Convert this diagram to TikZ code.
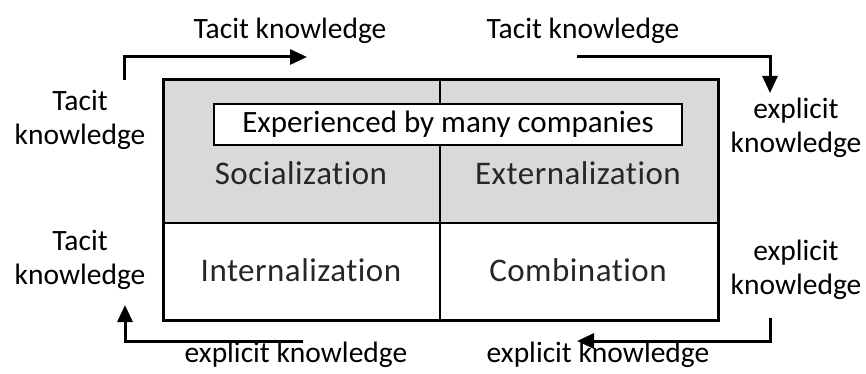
\documentclass[tikz,border=0pt]{standalone}
\usepackage{fontspec}
\setmainfont{Carlito}
\newfontfamily\cellfont[LetterSpace=1.5,Ligatures=NoCommon]{Carlito}
\usetikzlibrary{arrows.meta}

\begin{document}
\begin{tikzpicture}[x=1pt,y=-1pt,
    lbl/.style={font=\fontsize{29.5}{34}\selectfont, align=center, inner sep=0pt},
    cell/.style={font=\cellfont\fontsize{33}{38}\selectfont, text=black!85, inner sep=0pt},
    flow/.style={line width=3pt, -{Triangle[length=17pt,width=15pt]}}]
    \useasboundingbox (0,0) rectangle (866,374);
    % the four modes
    \fill[black!15] (163,80) rectangle (718,223);
    \draw[line width=2.5pt] (440,80) -- (440,320) (163,223) -- (718,223);
    \draw[line width=3pt] (163,80) rectangle (718,320);
    \node[draw, fill=white, line width=1.5pt, minimum width=468pt, minimum height=41pt,
          inner sep=0pt, font=\fontsize{31}{36}\selectfont] (many) at (448,124.5) {Experienced by many companies};
    \node[cell] (soc) at (301,173) {Socialization};
    \node[cell] (ext) at (578,173) {Externalization};
    \node[cell] (int) at (301,270) {Internalization};
    \node[cell] (com) at (578,270) {Combination};
    % knowledge labels
    \node[lbl] (tk1) at (290,31) {Tacit knowledge};
    \node[lbl] (tk2) at (583,31) {Tacit knowledge};
    \node[lbl] (tk3) at (80,120) {Tacit\\knowledge};
    \node[lbl] (tk4) at (80,260) {Tacit\\knowledge};
    \node[lbl] (ek1) at (796,128) {explicit\\knowledge};
    \node[lbl] (ek2) at (796,270) {explicit\\knowledge};
    \node[lbl] (ek3) at (296,355) {explicit knowledge};
    \node[lbl] (ek4) at (598,355) {explicit knowledge};
    % arrows
    \coordinate (s1) at (124,80);  \coordinate (e1) at (307,57);
    \coordinate (s2) at (577,57);  \coordinate (e2) at (770,93);
    \coordinate (s3) at (770,318); \coordinate (e3) at (577,341);
    \coordinate (s4) at (303,341); \coordinate (e4) at (125,305);
    \draw[flow] (s1) |- (e1);
    \draw[flow] (s2) -| (e2);
    \draw[flow] (s3) |- (e3);
    \draw[flow] (s4) -| (e4);
\end{tikzpicture}
\end{document}
